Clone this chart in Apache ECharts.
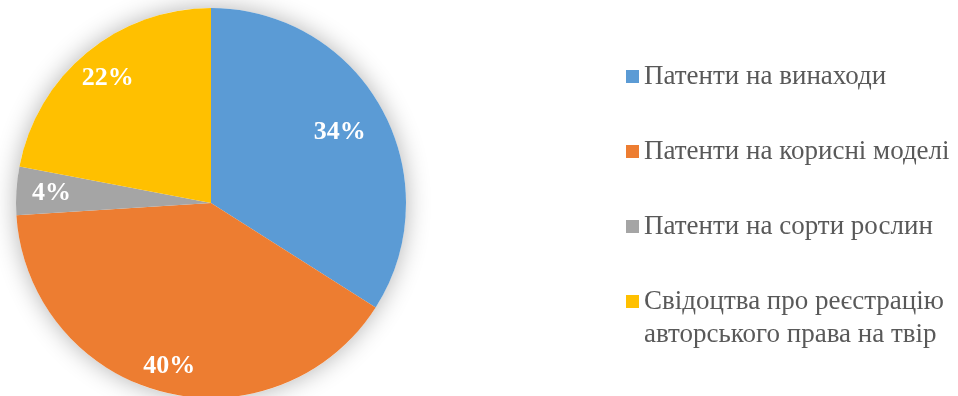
<!DOCTYPE html>
<html>
<head>
<meta charset="utf-8">
<script src="https://cdn.jsdelivr.net/npm/echarts@6/dist/echarts.min.js"></script>
<style>
  html, body { margin: 0; padding: 0; background: #ffffff; }
  #chart { width: 958px; height: 396px; }
</style>
</head>
<body>
<div id="chart"></div>
<script>
// Share of protection documents by type
const categories = [
  'Патенти на винаходи',
  'Патенти на корисні моделі',
  'Патенти на сорти рослин',
  'Свідоцтва про реєстрацію авторського права на твір'
];
const values = [34, 40, 4, 22];
const colors = ['#5B9BD5', '#ED7D31', '#A5A5A5', '#FFC000'];

// Layout
const CENTER = [211, 203];
const RADIUS = 195;
// radial position of each percentage label, as a fraction of the radius
const labelDistance = [0.753, 0.863, 0.819, 0.83];

const chart = echarts.init(document.getElementById('chart'), null, { renderer: 'canvas' });

const pieData = categories.map((name, i) => ({
  name: name,
  value: values[i],
  itemStyle: { color: colors[i] }
}));

const legendText = {
  fontFamily: 'Liberation Serif, Times New Roman, serif',
  fontSize: 27,
  color: '#595959',
  lineHeight: 33
};

function legendBase(extra) {
  return Object.assign({
    orient: 'vertical',
    left: 626,
    padding: 0,
    height: 380,
    icon: 'rect',
    itemWidth: 13,
    itemHeight: 13,
    itemGap: 42,
    selectedMode: false,
    textStyle: legendText
  }, extra);
}

chart.setOption({
  animation: false,
  backgroundColor: '#ffffff',
  legend: [
    legendBase({ top: 60, data: categories.slice(0, 3) }),
    legendBase({
      top: 252,
      data: categories.slice(3),
      formatter: function (name) {
        // two-line entry; the leading break keeps its first line level with the swatch
        return '\n' + name.replace('реєстрацію ', 'реєстрацію\n');
      }
    })
  ],
  series: [
    {
      // soft drop shadow behind the whole pie
      type: 'pie',
      silent: true,
      center: CENTER,
      radius: RADIUS,
      label: { show: false },
      labelLine: { show: false },
      itemStyle: {
        color: '#ffffff',
        shadowBlur: 24,
        shadowColor: 'rgba(0, 0, 0, 0.3)'
      },
      data: [{ name: '', value: 1 }],
      emphasis: { disabled: true }
    },
    {
      type: 'pie',
      center: CENTER,
      radius: RADIUS,
      startAngle: 90,
      clockwise: true,
      avoidLabelOverlap: false,
      silent: true,
      itemStyle: { borderWidth: 0 },
      emphasis: { disabled: true },
      label: {
        show: true,
        position: 'inside',
        formatter: '{d}%',
        fontFamily: 'Liberation Serif, Times New Roman, serif',
        fontWeight: 'bold',
        fontSize: 26,
        color: '#ffffff'
      },
      labelLine: { show: false },
      labelLayout: function (p) {
        const r = p.labelRect;
        const lx = r.x + r.width / 2;
        const ly = r.y + r.height / 2;
        const vx = lx - CENTER[0];
        const vy = ly - CENTER[1];
        const len = Math.sqrt(vx * vx + vy * vy) || 1;
        const k = labelDistance[p.dataIndex] * RADIUS / len - 1;
        return { dx: vx * k, dy: vy * k };
      },
      data: pieData
    }
  ]
});
</script>
</body>
</html>
